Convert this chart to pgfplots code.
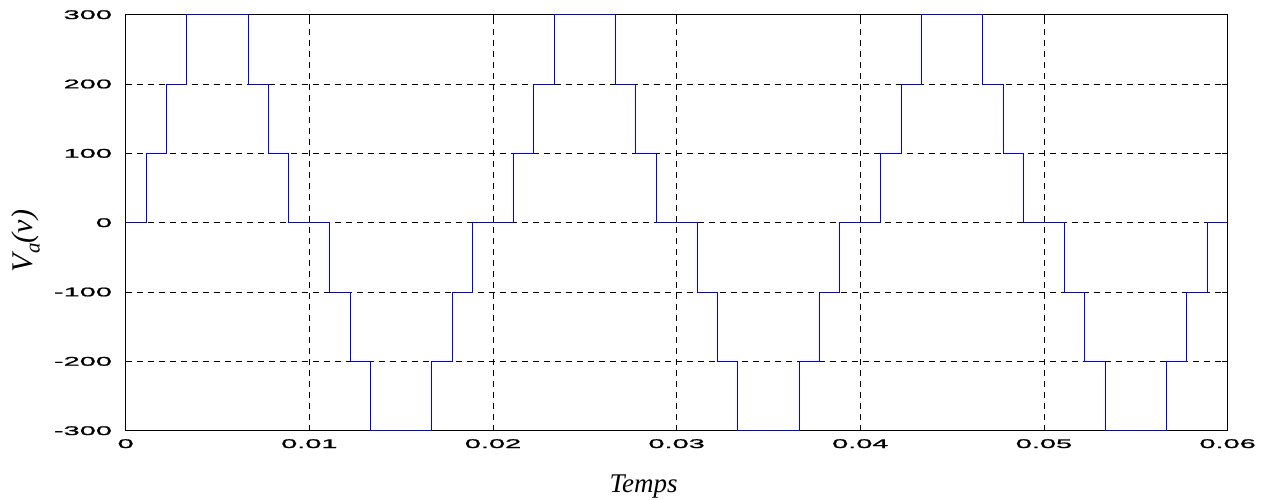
\documentclass[border=0pt]{standalone}
\usepackage{fontspec}
\usepackage{pgfplots}
\pgfplotsset{compat=1.18}
\setmainfont{Liberation Serif}
\newfontfamily\tickfont[FakeStretch=2.3,FakeBold=1.2]{Liberation Sans}
\newfontfamily\labfont{Liberation Serif}
\begin{document}
\begin{tikzpicture}
\path[use as bounding box] (-125.7pt,-68.3pt) rectangle (1146.3pt,430.7pt);
\begin{axis}[
  at={(0pt,0pt)}, anchor=south west,
  width=1102pt, height=416pt, scale only axis,
  xmin=0, xmax=0.06, ymin=-300, ymax=300,
  scaled x ticks=false, scaled y ticks=false,
  xtick={0,0.01,0.02,0.03,0.04,0.05,0.06},
  xticklabels={0,0.01,0.02,0.03,0.04,0.05,0.06},
  ytick={-300,-200,-100,0,100,200,300},
  yticklabels={-300,-200,-100,0,100,200,300},
  tick align=inside,
  major tick length=6pt,
  tick style={black, line width=0.8pt},
  axis line style={black, line width=1.5pt},
  grid=major,
  major grid style={black, line width=0.7pt, dash pattern=on 6pt off 5pt},
  ticklabel style={font=\fontsize{12.6}{14}\tickfont, inner sep=0pt},
  xticklabel style={anchor=north, yshift=-8.3pt},
  yticklabel style={anchor=east, xshift=-13.5pt},
  xlabel={\fontsize{27}{29}\labfont\itshape Temps},
  ylabel={\fontsize{30}{32}\labfont\itshape V\raisebox{-0.22em}{\fontsize{21}{23}\selectfont a}(v)},
  xlabel style={at={(axis description cs:0.470,-0.1346)}, anchor=center},
  ylabel style={at={(axis description cs:-0.0905,0.456)}, anchor=center, rotate=0},
  clip=false,
]
\addplot[const plot, blue, line width=1.0pt] coordinates {
(0,0) (0.001111,100) (0.002222,200) (0.003333,300) (0.006667,200) (0.007778,100) (0.008889,0)
(0.011111,-100) (0.012222,-200) (0.013333,-300) (0.016667,-200) (0.017778,-100) (0.018889,0)
(0.021111,100) (0.022222,200) (0.023333,300) (0.026667,200) (0.027778,100) (0.028889,0)
(0.031111,-100) (0.032222,-200) (0.033333,-300) (0.036667,-200) (0.037778,-100) (0.038889,0)
(0.041111,100) (0.042222,200) (0.043333,300) (0.046667,200) (0.047778,100) (0.048889,0)
(0.051111,-100) (0.052222,-200) (0.053333,-300) (0.056667,-200) (0.057778,-100) (0.058889,0)
(0.06,0)
};
\end{axis}
\end{tikzpicture}
\end{document}
